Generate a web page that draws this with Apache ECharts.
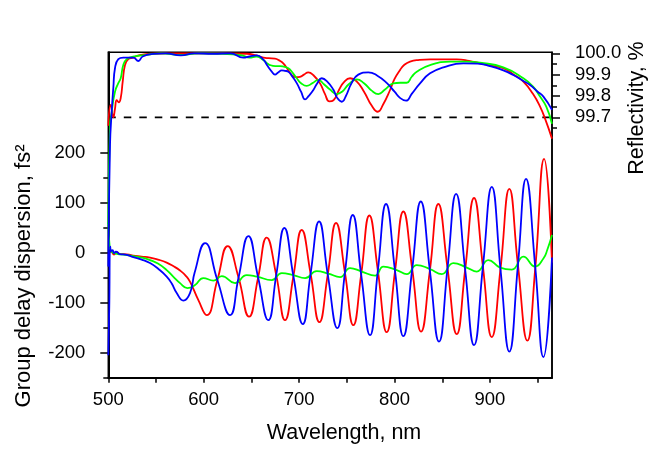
<!DOCTYPE html>
<html><head><meta charset="utf-8">
<script src="https://cdn.jsdelivr.net/npm/echarts@6/dist/echarts.min.js"></script>
<style>html,body{margin:0;padding:0;background:#fff}#c{width:650px;height:453px}</style>
</head><body><div id="c"></div>
<script>
// ---- tick values / labels ----
const xTicksMajor = [500, 600, 700, 800, 900];
const xTicksAll = [500, 550, 600, 650, 700, 750, 800, 850, 900, 950];
const gddTicksMajor = [-200, -100, 0, 100, 200];
const gddTicksMinor = [-250, -150, -50, 50, 150];
const reflTicksMajor = [99.7, 99.8, 99.9, 100.0];
const reflTicksMinor = [99.65, 99.75, 99.85, 99.95];
const dashedLevel = [[500, 99.7], [965, 99.7]];

// ---- group delay dispersion (fs^2) vs wavelength (nm) ----
const gddRed = [[500,-3],[503,2],[506,-4],[509,1],[512,-3],[516,-3],[526,-6],[535,-8],[543.7,-10],[552,-14],[561.2,-20],[568,-27],[575.2,-36],[581,-46],[585.6,-58],[594.4,-95],[603.1,-125],[614.3,-55],[625.1,13],[636.5,-50],[647.5,-128],[657,-50],[666,30],[676,-45],[685.2,-135],[694,-47],[702.7,45],[712,-42],[721.2,-139],[730,-44],[738.7,59],[748,-40],[756.8,-145],[765,-44],[773.6,74],[782.5,-36],[791.8,-159],[800.5,-37],[809.2,82],[818.5,-33],[827.8,-158],[837,-36],[845.9,97],[855.5,-31],[865.2,-163],[874,-34],[883.3,109],[892.6,-28],[901.9,-169],[911,-33],[920.3,127],[929.3,-25],[939.2,-176],[947.5,-30],[956.7,187],[965,-20]];
const gddGreen = [[500,60],[501.5,10],[503,2],[506,-1],[510,-3],[516,-4],[526.2,-7],[535,-10],[543.7,-15],[552,-22],[561.2,-35],[568,-48],[575.2,-61],[582.8,-71],[590.9,-65],[599.6,-51],[610.1,-56],[618.9,-47],[632.8,-61],[645.1,-45],[655.6,-48],[671.3,-55],[681.8,-41],[693.9,-45],[706.2,-51],[718.4,-37],[730.6,-42],[742.9,-49],[753.4,-31],[765.6,-38],[779.6,-46],[788.3,-28],[802.3,-35],[812.8,-43],[823.3,-25],[837.2,-33],[849.5,-43],[861.6,-21],[875.7,-30],[886.2,-38],[898.3,-15],[910.6,-30],[922.9,-34],[935,-8],[947.3,-28],[956,-12],[960,5],[965,35]];
const gddBlue = [[500,-205],[501,-110],[502,12],[503,3],[504.5,5],[506,-1],[508,2],[512,-3],[518,-4],[526.2,-9],[535,-14],[543.7,-21],[552,-32],[561.2,-48],[566.5,-62],[571.7,-81],[578.6,-96],[585.6,-81],[590.5,-40],[601.4,19],[614.3,-55],[627.6,-125],[636.5,-50],[646.8,33],[657,-50],[667.7,-135],[676,-45],[684.5,49],[694,-47],[703.8,-143],[712,-42],[720.9,62],[730,-44],[740,-151],[748,-40],[756.2,75],[765,-44],[774.3,-165],[782.5,-36],[791.1,97],[800.5,-37],[809.2,-167],[818.5,-33],[827.5,102],[837,-36],[846.6,-178],[855.5,-31],[864.5,117],[874,-34],[883.3,-185],[892.6,-28],[901.9,131],[911,-33],[920.3,-198],[929.3,-25],[937.8,147],[947.5,-30],[956,-209],[965,-10]];

// ---- reflectivity (%) vs wavelength (nm) ----
const reflRed = [[500,99.66],[502.5,99.758],[505.3,99.70],[507,99.74],[508.8,99.78],[511,99.77],[513,99.79],[515.1,99.867],[517.5,99.945],[521,99.973],[526.2,99.98],[533,99.992],[545,99.998],[560,100.0],[590,100.0],[620,100.0],[645,99.998],[655,99.99],[662.5,99.98],[668,99.977],[674.7,99.975],[679,99.967],[683.4,99.953],[688,99.925],[692.2,99.898],[696.5,99.888],[700.9,99.89],[705,99.9],[709.6,99.911],[715,99.897],[721.9,99.859],[727,99.81],[731.7,99.775],[736,99.78],[742,99.83],[747,99.865],[753.4,99.883],[760,99.87],[768,99.82],[776,99.755],[782.4,99.726],[788,99.76],[795.3,99.828],[800,99.88],[805.8,99.922],[810,99.945],[816.2,99.961],[826,99.969],[837.2,99.972],[865.2,99.972],[878,99.965],[889.6,99.953],[900,99.943],[914,99.93],[925,99.9],[935,99.867],[945,99.81],[952.5,99.75],[958,99.69],[965,99.6]];
const reflGreen = [[500,99.2],[501.8,99.66],[503.6,99.726],[507,99.82],[510.5,99.86],[513,99.883],[515.7,99.945],[519.3,99.973],[526,99.984],[540,99.993],[555,100.0],[576,99.992],[595,100.0],[620,99.998],[640,99.99],[648,99.98],[655,99.985],[662,99.97],[666,99.955],[669.5,99.945],[675,99.94],[680,99.94],[684,99.937],[688.7,99.93],[693,99.91],[697.5,99.883],[702,99.86],[707.9,99.847],[714,99.86],[720.1,99.875],[726,99.855],[732.4,99.83],[739.4,99.809],[745,99.82],[752,99.855],[760.4,99.878],[768,99.86],[776,99.825],[783,99.809],[790,99.83],[798.7,99.859],[806,99.862],[812.7,99.862],[818,99.89],[823.3,99.914],[837.2,99.945],[858.2,99.961],[875,99.961],[889.6,99.956],[914,99.934],[935,99.883],[945,99.845],[952.5,99.797],[959,99.75],[965,99.67]];
const reflBlue = [[500,99.0],[501.8,99.57],[503.6,99.73],[505.3,99.84],[507,99.93],[510.5,99.973],[515.7,99.98],[526,99.98],[531.5,99.964],[536,99.985],[547,99.997],[560,100.0],[576,99.99],[590,100.0],[610,99.998],[628,100.0],[641.5,99.98],[648,99.985],[655.6,99.99],[662.5,99.97],[667,99.94],[671.3,99.914],[674.7,99.9],[678,99.91],[681.8,99.92],[685,99.918],[688.7,99.914],[693,99.89],[697.5,99.86],[702,99.82],[706.2,99.784],[710,99.8],[714.9,99.828],[719,99.86],[723.7,99.883],[729,99.87],[735.8,99.83],[740,99.79],[744.7,99.773],[749,99.8],[755,99.86],[762,99.9],[772.5,99.911],[782,99.895],[792,99.86],[800,99.82],[806,99.79],[812,99.778],[818,99.81],[826.7,99.859],[837.2,99.906],[851.2,99.934],[872.1,99.953],[887,99.952],[900,99.94],[914,99.92],[924.5,99.898],[935,99.87],[942,99.851],[950,99.82],[956,99.797],[965,99.735]];

const FONT = "'Liberation Sans', Arial, sans-serif";
const RED = '#ff0000', GREEN = '#00ff00', BLUE = '#0000ff';
const REFL_MIN = 98.4793, REFL_MAX = 100.0047;

function curve(name, data, color, yIdx, z) {
  return {
    name: name, type: 'line', data: data, yAxisIndex: yIdx, symbol: 'none', showSymbol: false,
    smooth: 0.5, clip: true, z: z, silent: true,
    lineStyle: { color: color, width: 1.8 }, itemStyle: { color: color }
  };
}

const chart = echarts.init(document.getElementById('c'), null, { renderer: 'canvas' });
chart.setOption({
  animation: false,
  backgroundColor: '#fff',
  grid: { left: 108.3, right: 98, top: 52.3, bottom: 75.3, show: true, borderColor: '#000', borderWidth: 1.5, backgroundColor: 'transparent' },
  xAxis: {
    type: 'value', min: 500, max: 965,
    axisLine: { show: true, onZero: false, lineStyle: { color: '#000', width: 2 } },
    axisTick: { show: true, customValues: xTicksAll, length: 5, lineStyle: { color: '#000', width: 1.5 } },
    axisLabel: { customValues: xTicksMajor, margin: 13, fontSize: 18.5, fontFamily: FONT, color: '#000' },
    splitLine: { show: false }
  },
  yAxis: [
    {
      type: 'value', position: 'left', min: -250, max: 400,
      axisLine: { show: true, onZero: false, lineStyle: { color: '#000', width: 2 } },
      axisTick: { show: true, customValues: gddTicksMajor, length: 8, lineStyle: { color: '#000', width: 1.5 } },
      axisLabel: { customValues: gddTicksMajor, margin: 23, fontSize: 18.5, fontFamily: FONT, color: '#000' },
      splitLine: { show: false }
    },
    {
      type: 'value', position: 'right', min: REFL_MIN, max: REFL_MAX,
      axisLine: { show: true, onZero: false, lineStyle: { color: '#000', width: 1.5 } },
      axisTick: { show: true, customValues: reflTicksMajor, length: 8, lineStyle: { color: '#000', width: 1.5 } },
      axisLabel: { customValues: reflTicksMajor, margin: 23, fontSize: 18.5, fontFamily: FONT, color: '#000',
                   formatter: function (v) { return Number(v).toFixed(1); } },
      splitLine: { show: false }
    },
    {
      type: 'value', position: 'left', min: -250, max: 400,
      axisLine: { show: false }, axisLabel: { show: false }, splitLine: { show: false },
      axisTick: { show: true, customValues: gddTicksMinor, length: 5, lineStyle: { color: '#000', width: 1.5 } }
    },
    {
      type: 'value', position: 'right', min: REFL_MIN, max: REFL_MAX,
      axisLine: { show: false }, axisLabel: { show: false }, splitLine: { show: false },
      axisTick: { show: true, customValues: reflTicksMinor, length: 5, lineStyle: { color: '#000', width: 1.5 } }
    }
  ],
  series: [
    {
      name: '99.7 level', type: 'line', data: dashedLevel, yAxisIndex: 1, symbol: 'none', z: 1, silent: true,
      lineStyle: { color: '#000', width: 1.8, type: [7.5, 8] }
    },
    curve('Reflectivity red', reflRed, RED, 1, 2),
    curve('Reflectivity green', reflGreen, GREEN, 1, 3),
    curve('Reflectivity blue', reflBlue, BLUE, 1, 4),
    curve('GDD red', gddRed, RED, 0, 2),
    curve('GDD green', gddGreen, GREEN, 0, 3),
    curve('GDD blue', gddBlue, BLUE, 0, 4)
  ],
  graphic: [
    { type: 'text', x: 24, y: 276, rotation: Math.PI / 2,
      style: { text: 'Group delay dispersion, fs\u00B2', font: '22px ' + FONT, fill: '#000', textAlign: 'center', textVerticalAlign: 'middle' } },
    { type: 'text', x: 344, y: 433,
      style: { text: 'Wavelength, nm', font: '21.5px ' + FONT, fill: '#000', textAlign: 'center', textVerticalAlign: 'middle' } },
    { type: 'text', x: 637, y: 108, rotation: Math.PI / 2,
      style: { text: 'Reflectivity, %', font: '21.5px ' + FONT, fill: '#000', textAlign: 'center', textVerticalAlign: 'middle' } }
  ]
});
</script>
</body></html>
